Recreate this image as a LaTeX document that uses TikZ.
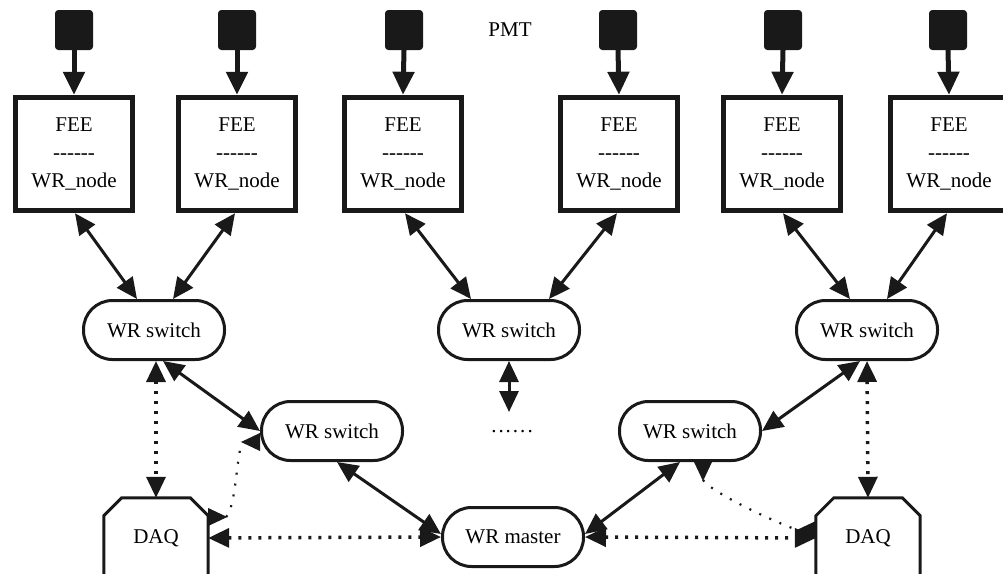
\documentclass[tikz,border=0pt]{standalone}
\usepackage{fontspec}
\newfontfamily\labelfont{Liberation Serif}[Ligatures=TeXOff]
\usetikzlibrary{arrows.meta}
\begin{document}
\begin{tikzpicture}[x=1pt,y=-1pt,
  every node/.style={font=\labelfont\fontsize{21}{28}\selectfont, text=black},
  pmt/.style={fill=black!90, draw=black!90, rounded corners=3pt, line width=1pt,
    minimum width=37pt, minimum height=39pt, inner sep=0pt},
  fee/.style={draw=black!90, line width=5.5pt, minimum width=117pt,
    minimum height=113pt, align=center, inner sep=0pt},
  switch/.style={draw=black!90, line width=3pt, rounded corners=29pt,
    minimum width=141pt, minimum height=59pt, inner sep=0pt},
  daq/.style={minimum width=104pt, minimum height=80pt, inner sep=0pt},
  daqline/.style={draw=black!90, line width=3pt, line join=miter},
  feed/.style={draw=black!90, line width=5pt, -{Triangle[length=23pt,width=21pt]}},
  link/.style={draw=black!90, line width=3pt,
    {Triangle[length=21pt,width=19pt]}-{Triangle[length=21pt,width=19pt]}},
  thickdot/.style={draw=black!90, line width=3.5pt, dash pattern=on 3pt off 7pt,
    {Triangle[length=21pt,width=19pt]}-{Triangle[length=21pt,width=19pt]}},
  thindot/.style={draw=black!90, line width=2.2pt, dash pattern=on 2pt off 9pt},
  invtip/.style={fill=black!90},
]
\useasboundingbox (0,0) rectangle (1003,573);
\clip (0,0) rectangle (1003,573);

% photomultipliers
\foreach \i/\x in {1/74,2/237,3/404,4/618,5/783,6/948}
  \node[pmt] (pmt\i) at (\x,30) {};
\node (pmtlabel) at (510,30) {PMT};

% front-end electronics boards
\foreach \i/\x in {1/74,2/237,3/403,4/619,5/782,6/949}
  \node[fee] (fee\i) at (\x,154) {FEE\\------\\WR\_node};

% switches and master
\node[switch] (sw1) at (154,330) {WR switch};
\node[switch] (sw2) at (509,330) {WR switch};
\node[switch] (sw3) at (867,330) {WR switch};
\node[switch] (sw4) at (332,431) {WR switch};
\node[switch] (sw5) at (690,431) {WR switch};
\node[switch] (master) at (513,537) {WR master};
\node[anchor=base] (dots) at (512,432) {.\kern2pt.\kern2pt.\kern2pt.\kern2pt.\kern2pt.};
\coordinate (more) at (509,412);

% data acquisition
\node[daq] (daqL) at (156,538) {DAQ};
\node[daq] (daqR) at (868,538) {DAQ};
\foreach \d in {daqL,daqR}
  \draw[daqline] (\d.south west) -- ([yshift=-18pt]\d.north west)
    -- ([xshift=18pt]\d.north west) -- ([xshift=-18pt]\d.north east)
    -- ([yshift=-18pt]\d.north east) -- (\d.south east);

% PMT signals into the boards
\foreach \i in {1,...,6}
  \draw[feed] (pmt\i.south) -- (fee\i.north);

% boards to first-level switches
\draw[link] ([xshift=1pt]fee1.south) -- ([xshift=-17pt]sw1.north);
\draw[link] ([xshift=-2pt]fee2.south) -- ([xshift=19pt]sw1.north);
\draw[link] ([xshift=2pt]fee3.south) -- ([xshift=-38pt]sw2.north);
\draw[link] ([xshift=-2pt]fee4.south) -- ([xshift=40pt]sw2.north);
\draw[link] ([xshift=1pt]fee5.south) -- ([xshift=-17pt]sw3.north);
\draw[link] ([xshift=-2pt]fee6.south) -- ([xshift=20pt]sw3.north);
\draw[link] (sw2.south) -- (more);

% left branch
\draw[link] ([xshift=9pt]sw1.south) -- (sw4.west);
\draw[thickdot] ([xshift=2pt]sw1.south) -- (daqL.north);
\draw[thickdot] (daqL.east) -- (master.west);
\draw[link] ([xshift=5pt]sw4.south) -- ([yshift=3pt]master.west);
% monitoring link with inverted tips at both ends
\coordinate (mL1) at ([yshift=21pt]daqL.east);
\coordinate (mL2) at ([yshift=-11pt]sw4.west);
\draw[thindot] ([xshift=18pt]mL1) .. controls +(10,-12) and +(-6,18)
  .. ([xshift=-18pt]mL2);
\fill[invtip] ([yshift=-9pt]mL1) -- ([yshift=9pt]mL1) -- ([xshift=19pt]mL1) -- cycle;
\fill[invtip] ([yshift=-9pt]mL2) -- ([yshift=9pt]mL2) -- ([xshift=-19pt]mL2) -- cycle;

% right branch
\draw[link] ([yshift=3pt]master.east) -- ([xshift=-10pt]sw5.south);
\draw[thickdot] (master.east) -- (daqR.west);
\draw[link] ([xshift=-7pt]sw3.south) -- (sw5.east);
\draw[thickdot] (sw3.south) -- (daqR.north);
% monitoring link with inverted tips at both ends
\coordinate (mR1) at ([xshift=13pt]sw5.south);
\coordinate (mR2) at ([yshift=8pt]daqR.west);
\draw[thindot] ([yshift=-18pt]mR1) .. controls +(10,14) and +(-14,-4)
  .. ([xshift=-18pt]mR2);
\fill[invtip] ([xshift=-9pt]mR1) -- ([xshift=9pt]mR1) -- ([yshift=-19pt]mR1) -- cycle;
\fill[invtip] ([yshift=-9pt]mR2) -- ([yshift=9pt]mR2) -- ([xshift=-19pt]mR2) -- cycle;
\end{tikzpicture}
\end{document}
